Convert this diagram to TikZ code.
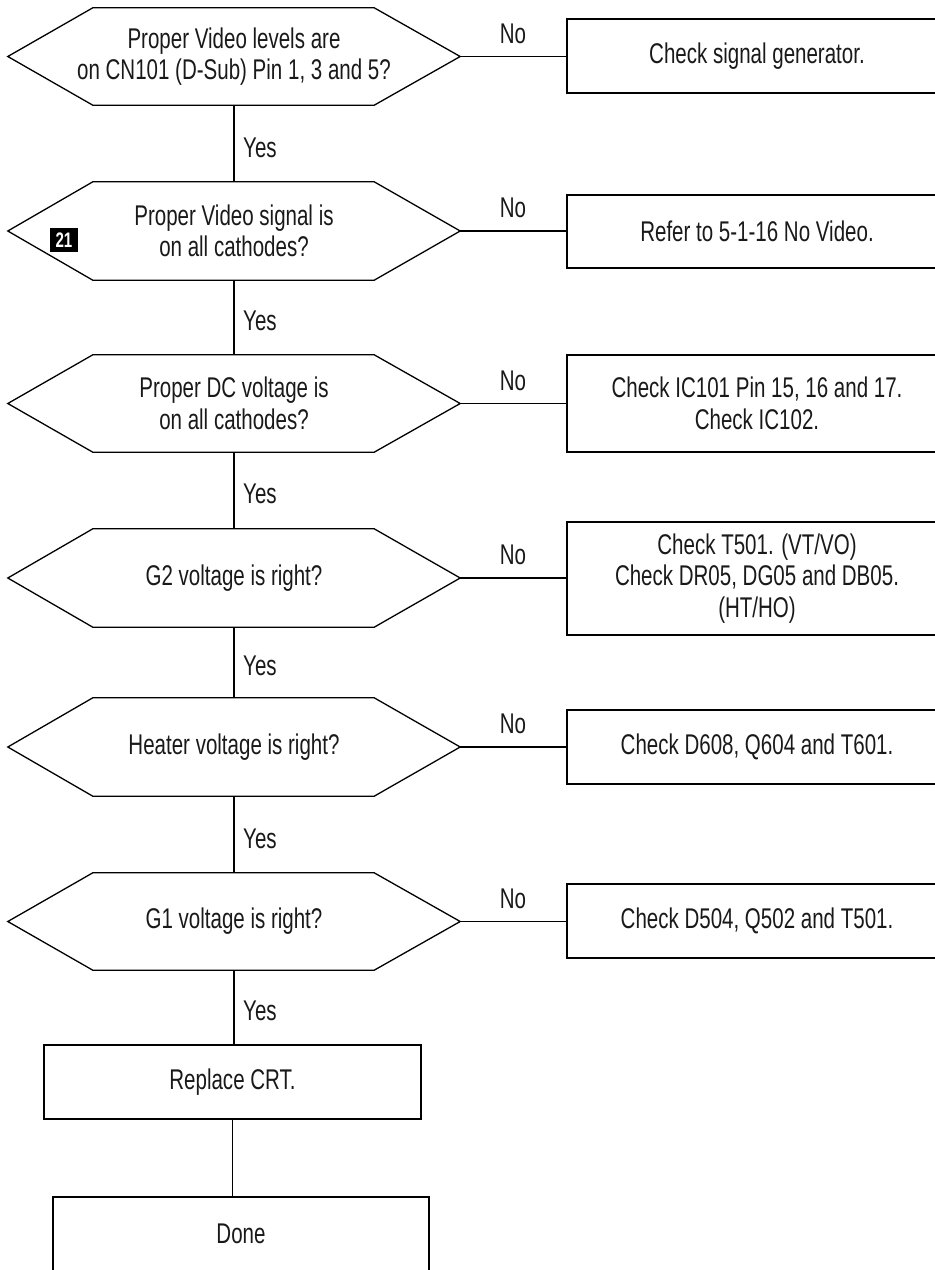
\documentclass[tikz,border=0pt]{standalone}
\usepackage{fontspec}
\setmainfont{Liberation Sans}[FakeStretch=0.72]
\usetikzlibrary{calc}
\newcommand\fcfont{\fontsize{28.5}{31.5}\selectfont}
\tikzset{
  conn/.style={line width=1.3pt, black},
  hexarea/.style={minimum width=452pt, minimum height=#1, inner sep=0pt, align=center, font=\fcfont, text=black!90},
  actbox/.style={draw, line width=1.3pt, minimum width=#1, inner sep=0pt, align=center, font=\fcfont, text=black!90},
  lbl/.style={font=\fcfont, inner sep=0pt, text=black!90},
  badge/.style={fill=black, text=white, minimum width=28pt, minimum height=24pt, inner sep=0pt, font=\fontsize{21}{21}\selectfont\bfseries},
}
\begin{document}
\begin{tikzpicture}[x=1pt, y=-1pt]
\useasboundingbox (0,0) rectangle (935,1270);
% decision areas
\node[hexarea=97pt] (h1) at (234,56.5) {Proper Video levels are\\on CN101 (D-Sub) Pin 1, 3 and 5?};
\node[hexarea=98pt] (h2) at (234,231) {Proper Video signal is\\on all cathodes?};
\node[hexarea=97pt] (h3) at (234,403.5) {Proper DC voltage is\\on all cathodes?};
\node[hexarea=98pt] (h4) at (234,578) {G2 voltage is right?};
\node[hexarea=98pt] (h5) at (234,747) {Heater voltage is right?};
\node[hexarea=97pt] (h6) at (234,921.5) {G1 voltage is right?};
\foreach \n in {h1,h2,h3,h4,h5,h6}
  \draw[conn, line join=miter] (\n.west) -- ([xshift=85pt]\n.north west) -- ([xshift=-86pt]\n.north east) -- (\n.east) -- ([xshift=-86pt]\n.south east) -- ([xshift=85pt]\n.south west) -- cycle;
\node[badge] (b21) at (64,240) {21};
% action boxes
\node[actbox=380pt, minimum height=74pt] (b1) at (757,56) {Check signal generator.};
\node[actbox=380pt, minimum height=73pt] (b2) at (757,231.5) {Refer to 5-1-16 No Video.};
\node[actbox=380pt, minimum height=97pt] (b3) at (757,403.5) {Check IC101 Pin 15, 16 and 17.\\Check IC102.};
\node[actbox=380pt, minimum height=113pt] (b4) at (757,578.5) {Check T501. (VT/VO)\\Check DR05, DG05 and DB05.\\(HT/HO)};
\node[actbox=380pt, minimum height=74pt] (b5) at (757,747) {Check D608, Q604 and T601.};
\node[actbox=380pt, minimum height=74pt] (b6) at (757,921) {Check D504, Q502 and T501.};
\node[actbox=377pt, minimum height=74pt] (crt) at (232.5,1082) {Replace CRT.};
\node[actbox=376pt, minimum height=74pt] (done) at (241,1234) {Done};
% connectors
\foreach \a/\b in {h1/h2,h2/h3,h3/h4,h4/h5,h5/h6}
  \draw[conn] (\a.south) -- (\b.north);
\foreach \a/\b in {h1/b1,h2/b2,h3/b3,h4/b4,h5/b5,h6/b6}
  \draw[conn] (\a.east) -- (\a.east -| \b.west);
\draw[conn] (h6.south) -- (h6.south |- crt.north);
\draw[conn] (crt.south) -- (crt.south |- done.north);
% labels
\node[lbl, anchor=west] (y1) at (243,148) {Yes};
\node[lbl, anchor=west] (y2) at (243,321) {Yes};
\node[lbl, anchor=west] (y3) at (243,494) {Yes};
\node[lbl, anchor=west] (y4) at (243,666) {Yes};
\node[lbl, anchor=west] (y5) at (243,839) {Yes};
\node[lbl, anchor=west] (y6) at (243,1011) {Yes};
\node[lbl] (n1) at (513,34) {No};
\node[lbl] (n2) at (513,208) {No};
\node[lbl] (n3) at (513,380.5) {No};
\node[lbl] (n4) at (513,555) {No};
\node[lbl] (n5) at (513,724) {No};
\node[lbl] (n6) at (513,898.5) {No};
\end{tikzpicture}
\end{document}
